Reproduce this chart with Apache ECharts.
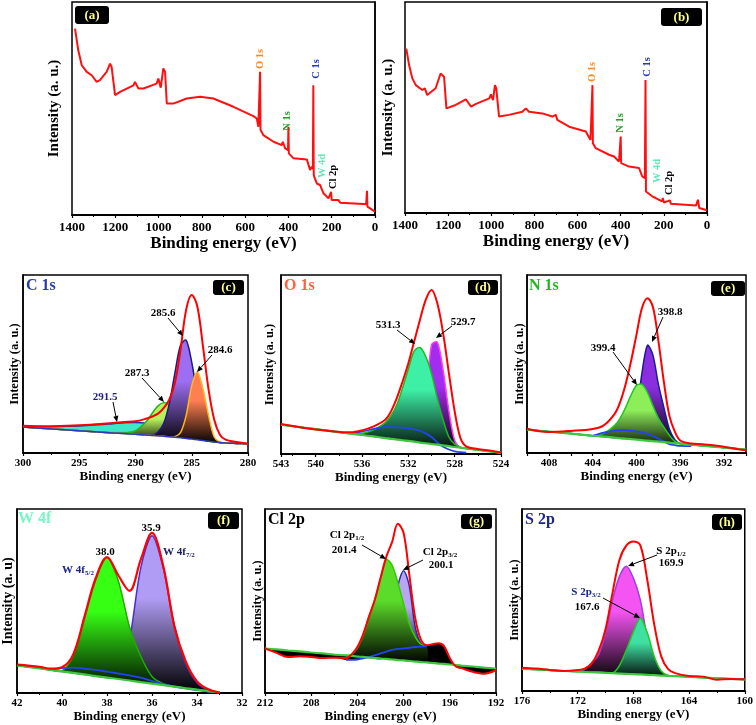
<!DOCTYPE html>
<html><head><meta charset="utf-8">
<script src="https://cdn.jsdelivr.net/npm/echarts@6/dist/echarts.min.js"></script>
<style>html,body{margin:0;padding:0;background:#fff}#c{width:756px;height:725px}</style>
</head><body><div id="c"></div>
<script>
const FAM = '"Liberation Serif", "Times New Roman", serif';

// ---------- (a) survey ----------
const surveyA_E = [1386,1371,1355,1332,1309,1301,1286,1271,1240,1224,1217,1201,1178,1116,1109,1093,1070,1009,1001,990,978,970,962,932,870,808,747,654,562,546,539,533,531,529,523,516,469,431,426,415,402,400,398,377,315,307,300,292,287,285,283,281,269,254,238,215,206,203,200,169,161,53,41,37,35,0];
const surveyA_I = [87.5,77.3,70.3,67.2,65.6,66.5,62.5,63.3,67.2,71.1,69.5,56.3,57.8,60.9,62.5,59.4,59.4,61.7,64.1,59.8,68.8,67.2,52.3,52.3,54.7,55.5,54.7,50.8,46.4,45.3,41.4,41.0,67.2,40.0,39.8,37.5,34.4,32.8,34.4,31.3,30.5,41.4,28.9,26.6,26.1,25.8,21.1,22.7,21.5,60.9,19.0,18.0,14.8,14.1,10.2,7.8,7.5,10.9,7.0,7.0,5.8,5.2,5.0,11.4,3.9,1.6];
// ---------- (b) survey ----------
const surveyB_E = [1394,1381,1366,1350,1320,1308,1297,1258,1235,1227,1219,1208,1165,1118,1111,1094,1071,1009,1002,992,983,977,964,918,856,840,825,763,717,701,694,639,562,540,533,531,529,516,454,431,408,402,400,398,362,315,300,288,285,283,254,238,208,205,200,172,168,51,42,36,0];
const surveyB_I = [77.9,70.1,63.8,60.6,58.3,59.1,55.9,59.1,66.1,66.9,64.6,49.6,51.2,53.9,54.8,50.4,51.7,54.3,56.2,53.5,60.6,59.1,45.7,46.5,48.0,49.6,48.0,47.2,45.7,46.5,44.1,40.9,38.6,34.6,34.0,60.6,33.1,30.7,27.6,26.8,24.4,24.0,36.2,23.6,22.0,21.3,17.3,16.5,63.0,10.2,7.9,7.1,5.5,7.1,5.0,6.0,4.4,3.5,6.3,2.4,1.3];
const surveyLabels = ['O 1s','C 1s','N 1s','W 4d','Cl 2p'];

// ---------- (c) C 1s ----------
const cE      = [300,298,296,294,292,291,290,289,288.5,288,287.5,287,286.5,286,285.5,285,284.5,284,283.5,283,282.5,282,281,280];
const cBase   = [14.6,13.7,12.9,12.1,11.3,10.9,10.5,10.1,9.9,9.7,9.4,9.1,8.8,8.5,8.2,7.8,7.4,7.0,6.6,6.2,5.9,5.6,5.4,5.2];
const cEnv    = [15.3,15.0,15.3,15.9,16.8,17.4,17.8,19.4,20.5,22.1,25.2,29.9,39.3,57.9,80.4,88.8,82.2,59.8,35.5,18.7,10.3,7.5,6.2,5.2];
const c2915   = [15.1,14.8,15.0,15.6,16.5,17.0,17.2,16.8,16.3,15.7,14.9,14.0,12.8,11.6,10.4,9.3,8.4,7.6,6.9,6.4,5.9,5.6,5.4,5.2];
const c2873   = [14.6,13.7,12.9,12.1,11.3,11.2,12.5,18.0,22.5,26.5,28.3,27.0,23.0,18.0,13.5,10.3,8.4,7.3,6.6,6.2,5.9,5.6,5.4,5.2];
const c2856   = [14.6,13.7,12.9,12.1,11.3,10.9,10.5,10.1,10.1,11.8,16.5,27.6,44.8,60.5,63.4,50.9,32.2,17.4,9.8,6.9,5.9,5.6,5.4,5.2];
const c2846   = [14.6,13.7,12.9,12.1,11.3,10.9,10.5,10.1,9.9,9.7,9.4,9.1,9.2,11.4,21.0,37.8,45.7,36.0,21.0,9.0,6.1,5.6,5.4,5.2];

// ---------- (d) O 1s ----------
const dE      = [543,541,539,537,536,535,534,533.5,533,532.5,532,531.5,531,530.5,530,529.5,529,528.5,528,527.5,527,526,525,524];
const dBase   = [16.4,14.7,13.1,11.4,10.6,9.8,8.9,8.5,8.1,7.7,7.3,6.9,6.4,6.0,5.6,5.2,4.8,4.4,3.9,3.5,3.1,2.3,1.5,0.6];
const dEnv    = [16.7,14.5,13.0,12.1,13.2,15.4,19.1,23.8,31.2,40.5,50.7,62.8,74.9,86.1,91.6,84.2,67.5,45.2,23.8,8.9,4.3,2.8,1.9,0.9];
const dBlue   = [null,null,null,11.6,12.5,14.0,15.0,15.0,14.9,14.7,14.3,13.8,13.0,11.5,9.5,6.5,4.0,2.5,1.5,1.0,0.8,null,null,null];
const d5313   = [16.4,14.7,13.1,11.4,11.5,13.5,17.5,21.5,27.5,37.0,47.5,57.5,59.5,54.5,45.0,31.0,19.0,9.5,5.5,3.8,3.1,2.3,1.5,0.6];
const d5297   = [16.4,14.7,13.1,11.4,10.6,9.8,8.9,8.5,8.1,7.7,7.3,7.5,12.0,30.0,61.0,62.5,47.0,24.0,7.5,3.5,3.1,2.3,1.5,0.6];

// ---------- (e) N 1s ----------
const eE      = [410,408,406,404,403,402,401.5,401,400.5,400,399.5,399,398.5,398,397.5,397,396.5,396,395,394,393,392,391,390];
const eBase   = [13.1,12.0,10.9,9.7,9.2,8.6,8.3,8.1,7.8,7.5,7.2,6.9,6.7,6.4,6.1,5.8,5.5,5.3,4.7,4.1,3.6,3.0,2.5,1.9];
const eEnv    = [13.6,11.8,12.4,13.5,15.5,22.0,28.5,38.5,51.5,66.5,81.5,87.0,82.0,63.0,40.0,21.0,12.0,7.0,5.3,4.9,4.3,3.5,2.4,1.5];
const eBlue   = [null,null,null,9.7,11.5,12.6,12.8,12.8,12.6,12.2,11.6,10.8,9.5,8.0,6.5,5.0,4.4,4.0,3.9,null,null,null,null,null];
const e3994   = [13.1,12.0,10.9,9.7,11.0,15.5,19.5,25.5,32.5,38.0,38.5,34.0,26.5,19.5,14.5,10.0,6.5,5.3,4.7,4.1,3.6,3.0,2.5,1.9];
const e3988   = [13.1,12.0,10.9,9.7,9.2,8.6,8.3,8.1,9.0,22.0,45.0,60.5,55.0,38.5,25.5,13.5,7.5,5.3,4.7,4.1,3.6,3.0,2.5,1.9];

// ---------- (f) W 4f ----------
const fE      = [42,41,40.5,40,39.5,39,38.5,38,37.5,37,36.5,36,35.5,35,34.5,34,33.5,33];
const fBase   = [15.0,13.4,12.5,11.7,10.9,10.1,9.2,8.4,7.6,6.8,5.9,5.1,4.3,3.5,2.6,1.8,1.0,0.4];
const fEnv    = [15.4,14.2,13.2,14.0,21.0,41.5,62.5,73.8,64.0,55.5,72.5,87.0,69.0,36.2,17.2,6.3,2.0,0.2];
const fBlue   = [null,null,12.5,13.5,13.8,13.3,12.6,11.6,10.6,9.6,8.4,6.5,4.8,3.5,2.5,1.6,0.8,0.2];
const f380    = [15.0,13.4,12.5,12.0,20.5,40.5,61.5,73.5,61.0,36.0,20.0,9.0,5.0,3.5,2.6,1.8,1.0,0.4];
const f359    = [15.0,13.4,12.5,11.7,10.9,10.1,9.2,8.4,9.0,29.0,68.0,85.5,68.0,36.0,16.0,5.5,1.5,0.4];

// ---------- (g) Cl 2p ----------
const gE      = [212,211,210,209,208,207,206,205,204.5,204,203.5,203,202.5,202,201.5,201,200.5,200,199.5,199,198.5,198,197.5,197,196.5,196,195.5,195,194,193,192];
const gBase   = [24.2,23.7,23.1,22.6,22.0,21.5,20.9,20.4,20.1,19.8,19.6,19.3,19.0,18.7,18.5,18.2,17.9,17.7,17.4,17.1,16.8,16.6,16.3,16.0,15.8,15.5,15.2,14.9,14.4,13.8,13.3];
const gEnv    = [24.2,21.8,19.5,20.0,19.6,19.0,19.2,19.0,21.0,25.0,32.0,41.5,50.5,62.5,74.0,82.0,92.0,87.0,64.0,41.0,29.0,26.0,26.5,27.0,25.5,19.0,14.5,13.5,11.5,10.5,12.5];
const gBg     = [24.2,21.8,19.5,20.0,19.6,19.0,19.2,18.0,18.0,18.2,18.8,19.5,20.5,21.5,22.5,23.5,24.0,24.2,24.6,25.0,25.2,26.0,26.5,27.0,25.5,19.0,14.5,13.5,11.5,10.5,12.5];
const gBlue   = [null,null,null,null,null,null,null,18.0,18.0,18.2,18.8,19.5,20.5,21.5,22.5,23.5,24.0,24.2,24.6,25.0,25.2,25.6,null,null,null,null,null,null,null,null,null];
const g2014   = [null,null,null,null,null,null,null,20.4,21.0,24.5,31.5,41.0,50.5,62.0,72.5,69.5,60.0,48.5,37.5,30.5,26.5,25.6,null,null,null,null,null,null,null,null,null];
const g2001   = [null,null,null,null,null,null,null,20.4,20.1,19.8,19.6,19.3,19.0,18.7,24.0,35.0,58.0,66.5,58.0,36.0,27.0,25.6,null,null,null,null,null,null,null,null,null];

// ---------- (h) S 2p ----------
const hE      = [176,175,174,173,172,171.5,171,170.5,170,169.5,169,168.5,168,167.5,167,166.5,166,165.5,165,164,163,162,161,160];
const hBase   = [12.1,11.8,11.4,11.0,10.7,10.5,10.3,10.2,10.0,9.8,9.6,9.4,9.3,9.1,8.9,8.7,8.5,8.3,8.2,7.8,7.4,7.0,6.7,6.3];
const hEnv    = [12.8,12.3,11.6,11.0,11.5,12.3,15.0,22.0,34.0,53.8,72.0,80.0,82.2,80.0,61.0,36.5,19.0,12.0,9.8,8.2,7.9,6.2,6.6,6.4];
const h1699   = [12.1,11.8,11.4,11.0,10.7,12.0,15.5,20.0,32.0,50.0,63.0,68.5,62.0,50.0,29.0,14.0,9.5,8.3,8.2,7.8,7.4,7.0,6.7,6.3];
const h1676   = [12.1,11.8,11.4,11.0,10.7,10.5,10.3,10.2,10.0,9.8,14.0,22.5,32.5,40.0,32.0,19.0,11.0,8.5,8.2,7.8,7.4,7.0,6.7,6.3];

// ---------- axes ----------
const axisRanges = [
  [0,1400,200],[0,1400,200],[280,300,5],[524,543,4],[390,410,2],[32,42,2],[192,212,4],[160,176,4]
];

// ================= build ===================
const grids = [
  {left:72, top:2, width:303, height:213},
  {left:405, top:2, width:302, height:211},
  {left:23, top:275, width:225, height:178},
  {left:281, top:275, width:220, height:179},
  {left:527, top:275, width:219, height:178},
  {left:15, top:509, width:227, height:184},
  {left:265, top:509, width:231, height:184},
  {left:522, top:509, width:225, height:182}
].map(g => Object.assign({show:true, borderColor:'#000', borderWidth:1.5, backgroundColor:'#fff'}, g));

const yGaps = [10, 9, 2, 5, 1, 2, 1, 1];
const yNames = ['Intensity (a. u.)','Intensity (a. u.)','Intensity (a. u.)','Intensity (a. u.)','Intensity (a. u.)','Intensity (a. u)','Intensity (a. u.)','Intensity (a. u.)'];

const xAxes = axisRanges.map((r, i) => {
  const top = i < 2;
  return {
    gridIndex: i, type: 'value', inverse: true, min: r[0], max: r[1], interval: r[2],
    axisLine: {show: true, onZero: false, lineStyle: {color: '#000', width: 2}},
    axisTick: {show: true, length: 3, lineStyle: {color: '#000', width: 1.2}},
    minorTick: {show: i !== 4, splitNumber: 2, length: 2, lineStyle: {color: '#000'}},
    splitLine: {show: false},
    axisLabel: {
      fontFamily: FAM, fontWeight: 'bold', fontSize: top ? 13 : 11, color: '#000', margin: top ? 6 : 5,
      showMinLabel: true, showMaxLabel: true,
      formatter: i === 4 ? (v => (v % 4 === 0 ? String(v) : '')) : (v => String(v))
    },
    name: 'Binding energy (eV)', nameLocation: 'middle', nameGap: top ? 18 : 16,
    nameTextStyle: {fontFamily: FAM, fontWeight: 'bold', fontSize: top ? 17 : 13, color: '#000'}
  };
});
const yAxes = grids.map((g, i) => ({
  gridIndex: i, type: 'value', min: 0, max: 100,
  axisLine: {show: true, lineStyle: {color: '#000', width: 1.5}},
  axisTick: {show: false}, axisLabel: {show: false}, splitLine: {show: false},
  name: yNames[i], nameLocation: 'middle', nameRotate: 90, nameGap: yGaps[i],
  nameTextStyle: {fontFamily: FAM, fontWeight: 'bold', fontSize: i < 2 ? 15 : (i === 5 ? 14 : 12.5), color: '#000'}
}));

function P(E, V) { return E.map((e, i) => (V[i] == null ? [e, '-'] : [e, V[i]])); }
function grad(c) {
  return new echarts.graphic.LinearGradient(0, 0, 0, 1, [
    {offset: 0, color: c}, {offset: 0.4, color: c}, {offset: 1, color: '#000'}]);
}
const series = [];
const SM = 0.3;
// filled component between its curve V and the baseline B, drawn through the axis scales
function comp(gi, E, B, V, fill, lineColor, lw) {
  const idx = E.map((e, i) => i).filter(i => V[i] != null && B[i] != null);
  series.push({
    type: 'custom', coordinateSystem: 'cartesian2d', xAxisIndex: gi, yAxisIndex: gi,
    data: [[E[idx[0]], V[idx[0]]]], z: 2, silent: true, clip: true,
    renderItem: function (params, api) {
      const top = idx.map(i => api.coord([E[i], V[i]]));
      const bot = idx.map(i => api.coord([E[i], B[i]])).reverse();
      const children = [{type: 'polygon', shape: {points: top.concat(bot), smooth: SM},
        style: {fill: fill === '#000' ? '#000' : grad(fill), stroke: null}}];
      if (lineColor) children.push({type: 'polyline', shape: {points: top, smooth: SM},
        style: {stroke: lineColor, lineWidth: lw || 1.5, fill: null}});
      return {type: 'group', children: children};
    }
  });
}
function line(gi, E, V, color, w, smooth, z) {
  series.push({type: 'line', xAxisIndex: gi, yAxisIndex: gi, data: P(E, V), symbol: 'none',
    smooth: smooth, lineStyle: {color: color, width: w}, z: z || 3});
}

// survey
line(0, surveyA_E, surveyA_I, '#ff1010', 2, false, 4);
line(1, surveyB_E, surveyB_I, '#ff1010', 2, false, 4);
// c
comp(2, cE, cBase, c2915, '#3ee8c6', '#2436b0');
comp(2, cE, cBase, c2873, '#b6f25c', '#22b422');
comp(2, cE, cBase, c2856, '#9c6ef2', '#1c1c80');
comp(2, cE, cBase, c2846, '#ff7f52', '#ffb81c');
line(2, cE, cBase, '#2a3ab8', 1.5, 0.3);
line(2, cE, cEnv, '#ff0000', 2, 0.35, 5);
// d
comp(3, dE, dBase, d5297, '#a22cf0', '#ff3cf0');
comp(3, dE, dBase, d5313, '#3ef0a6', '#22b822');
line(3, dE, dBlue, '#2244ee', 1.8, 0.35);
line(3, dE, dBase, '#3cc83c', 2.2, 0.3);
line(3, dE, dEnv, '#ff0000', 2, 0.35, 5);
// e
comp(4, eE, eBase, e3988, '#8a2ee0', '#1c1c96');
comp(4, eE, eBase, e3994, '#8eee5a', '#22c822');
line(4, eE, eBlue, '#2244ee', 1.8, 0.35);
line(4, eE, eBase, '#3cc83c', 2.2, 0.3);
line(4, eE, eEnv, '#ff0000', 2, 0.35, 5);
// f
comp(5, fE, fBase, f359, '#b09cf5', '#4a2ed0');
comp(5, fE, fBase, f380, '#36ff14', '#22aa00');
line(5, fE, fBlue, '#2244ee', 1.8, 0.35);
line(5, fE, fBase, '#3cc83c', 2.2, 0.3);
line(5, fE, fEnv, '#ff0000', 2.2, 0.35, 5);
// g
comp(6, gE, gBase, gBg, '#000', null);
comp(6, gE, gBase, g2001, '#b8a6f2', '#2a2aa8');
comp(6, gE, gBase, g2014, '#5cdc2a', '#33cc00');
line(6, gE, gBlue, '#2244ee', 1.8, 0.35);
line(6, gE, gBase, '#3cc83c', 2.2, 0.3);
line(6, gE, gEnv, '#ff0000', 2, 0.35, 5);
// h
comp(7, hE, hBase, h1699, '#f454f2', '#a040e0');
comp(7, hE, hBase, h1676, '#40e0a2', '#22c822');
line(7, hE, hBase, '#3cc83c', 2.2, 0.3);
line(7, hE, hEnv, '#ff0000', 2, 0.35, 5);

// ---------- annotations ----------
const G = [];
function txt(x, y, text, font, fill, align, rot) {
  G.push({type: 'text', x: x, y: y, rotation: rot || 0, z: 100,
    style: {text: text, font: font, fill: fill, align: align || 'center', verticalAlign: 'middle'}});
}
function badge(x, y, w, h, t) {
  G.push({type: 'rect', shape: {x: x, y: y, width: w, height: h, r: 3}, style: {fill: '#000'}, z: 100});
  txt(x + w / 2, y + h / 2 + 0.5, t, 'bold 13px ' + FAM, '#ffff8c');
}
function sub(x, y, main, s, fill, align) {
  G.push({type: 'text', x: x, y: y, z: 100, style: {
    text: '{m|' + main + '}{s|' + s + '}', align: align || 'center', verticalAlign: 'middle',
    rich: {m: {font: 'bold 11px ' + FAM, fill: fill, lineHeight: 14},
           s: {font: 'bold 7px ' + FAM, fill: fill, lineHeight: 8, verticalAlign: 'bottom'}}}});
}
function arrow(x1, y1, x2, y2) {
  const a = Math.atan2(y2 - y1, x2 - x1), L = 6, W = 2.6;
  const bx = x2 - L * Math.cos(a), by = y2 - L * Math.sin(a);
  const px = -Math.sin(a) * W, py = Math.cos(a) * W;
  G.push({type: 'line', z: 100, shape: {x1: x1, y1: y1, x2: bx, y2: by}, style: {stroke: '#000', lineWidth: 1}});
  G.push({type: 'polygon', z: 100, shape: {points: [[x2, y2], [bx + px, by + py], [bx - px, by - py]]}, style: {fill: '#000'}});
}
badge(75, 6, 34, 18, '(a)');
badge(661, 8, 41, 18, '(b)');
badge(213, 280, 31, 15, '(c)');
badge(468, 280, 30, 15, '(d)');
badge(711, 281, 34, 15, '(e)');
badge(208, 512, 31, 17, '(f)');
badge(461, 514, 31, 15, '(g)');
badge(712, 514, 30, 16, '(h)');

const SL = 'bold 10.5px ' + FAM, R = Math.PI / 2;
const surveyColors = ['#ff8a1c', '#2438c0', '#22a022', '#66e6b4', '#000'];
const surveyPosA = [[260, 59], [316, 69], [287, 121], [322, 166], [333, 177]];
const surveyPosB = [[592, 72], [647, 67], [620, 123], [657, 171], [669, 183]];
surveyLabels.forEach((t, i) => {
  txt(surveyPosA[i][0], surveyPosA[i][1], t, SL, surveyColors[i], 'center', R);
  txt(surveyPosB[i][0], surveyPosB[i][1], t, SL, surveyColors[i], 'center', R);
});

const TF = 'bold 16px ' + FAM;
txt(26, 286, 'C 1s', TF, '#2b3aa8', 'left');
txt(284, 286, 'O 1s', TF, '#ff6040', 'left');
txt(529, 286, 'N 1s', TF, '#22b822', 'left');
txt(18, 519, 'W 4f', TF, '#7af5c5', 'left');
txt(268, 520, 'Cl 2p', TF, '#000', 'left');
txt(525, 520, 'S 2p', TF, '#1c2590', 'left');

const PF = 'bold 11px ' + FAM;
txt(163, 313, '285.6', PF, '#000'); arrow(168, 318, 183, 336);
txt(220, 350, '284.6', PF, '#000'); arrow(212, 355, 197, 372);
txt(137, 373, '287.3', PF, '#000'); arrow(142, 378, 164, 402);
txt(105, 397, '291.5', PF, '#1c1c80'); arrow(113, 402, 117, 422);
txt(388, 325, '531.3', PF, '#000'); arrow(397, 330, 415, 344);
txt(463, 322, '529.7', PF, '#000'); arrow(452, 326, 436, 338);
txt(670, 312, '398.8', PF, '#000'); arrow(663, 317, 652, 342);
txt(603, 348, '399.4', PF, '#000'); arrow(613, 352, 637, 385);
txt(151, 528, '35.9', PF, '#000');
txt(105, 552, '38.0', PF, '#000');
sub(163, 552, 'W 4f', '7/2', '#1c1c60', 'left');
sub(78, 570, 'W 4f', '5/2', '#1c2590', 'center');
sub(347, 535, 'Cl 2p', '1/2', '#000', 'center');
txt(344, 550, '201.4', PF, '#000'); arrow(362, 545, 386, 559);
sub(440, 552, 'Cl 2p', '3/2', '#000', 'center');
txt(441, 565, '200.1', PF, '#000'); arrow(423, 560, 403, 570);
sub(671, 551, 'S 2p', '1/2', '#000', 'center');
txt(671, 563, '169.9', PF, '#000'); arrow(657, 555, 628, 566);
sub(586, 592, 'S 2p', '3/2', '#1c2590', 'center');
txt(587, 607, '167.6', PF, '#000'); arrow(603, 598, 640, 618);

const chart = echarts.init(document.getElementById('c'), null, {renderer: 'canvas'});
chart.setOption({
  animation: false,
  backgroundColor: '#fff',
  grid: grids, xAxis: xAxes, yAxis: yAxes, series: series, graphic: G
});
</script></body></html>
